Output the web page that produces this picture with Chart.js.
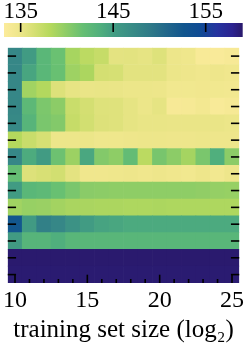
<!DOCTYPE html>
<html><head><meta charset="utf-8">
<script src="https://cdn.jsdelivr.net/npm/chart.js@4/dist/chart.umd.min.js"></script>
<style>
html,body{margin:0;padding:0;background:#fff;}
#wrap{position:relative;width:247px;height:343px;overflow:hidden;}
.box{position:absolute;left:0;}
</style></head><body>
<div id="wrap">
<div class="box" style="top:0;width:247px;height:37px"><canvas id="cb" width="247" height="37"></canvas></div>
<div class="box" style="top:40px;width:247px;height:303px"><canvas id="hm" width="247" height="303"></canvas></div>
</div>
<script>
// ---- data ----
const trainingSizes = [10,11,12,13,14,15,16,17,18,19,20,21,22,23,24,25];
const xTickLabels = [10,15,20,25];
const colorbarTicks = [135,145,155];
const colorMin = 133.2;
const colorMax = 159.0;
// rows from top to bottom
const row01 = [147.6,145.2,142.7,141.5,138.8,137.8,137.3,135.5,135.6,135.4,135.9,134.9,134.7,133.7,133.5,133.8];
const row02 = [147.6,144.4,142.7,141.6,139.2,138.6,136.5,136.4,135.6,135.6,135.6,135.0,134.8,134.6,134.8,134.6];
const row03 = [147.6,139.1,138.3,136.0,135.3,135.1,135.2,135.1,135.0,135.0,134.9,134.4,134.4,134.5,134.4,134.3];
const row04 = [147.5,142.5,140.7,140.0,137.1,136.5,135.9,135.8,135.4,135.0,135.4,133.8,133.9,134.2,133.6,133.9];
const row05 = [147.3,143.0,140.8,140.4,137.3,136.6,136.0,135.8,135.4,135.2,135.2,135.1,135.1,135.1,135.1,135.0];
const row06 = [138.2,137.1,136.4,134.9,134.9,135.0,134.7,134.7,134.8,134.9,134.9,134.8,134.8,134.9,134.8,134.8];
const row07 = [147.6,143.9,145.2,141.4,139.3,144.2,140.4,139.9,142.0,137.9,140.9,140.0,138.9,140.8,143.6,140.0];
const row08 = [141.8,136.0,136.3,136.6,135.5,134.6,134.6,134.7,134.8,134.6,134.8,134.6,134.4,134.8,134.3,134.8];
const row09 = [145.2,142.7,142.4,141.6,140.8,140.1,140.0,139.9,139.9,139.9,139.9,139.9,139.9,139.8,139.6,139.5];
const row10 = [139.1,139.5,139.4,139.0,138.7,138.7,138.6,138.6,138.5,138.5,138.6,138.5,138.5,138.5,138.5,138.5];
const row11 = [152.5,145.3,148.3,147.6,146.3,145.2,144.5,144.3,144.0,144.0,144.0,144.0,144.0,144.0,144.0,144.0];
const row12 = [145.3,143.0,143.0,143.6,142.8,142.8,142.8,142.8,142.8,142.8,142.8,142.8,142.8,142.8,142.8,142.8];
const row13 = [158.9,158.9,158.9,158.9,158.9,158.9,158.9,158.9,158.9,158.9,158.9,158.9,158.9,158.9,158.9,158.9];
const row14 = [158.8,158.8,158.8,158.8,158.8,158.8,158.8,158.8,158.8,158.8,158.8,158.8,158.8,158.8,158.8,158.8];
const rows = [row01,row02,row03,row04,row05,row06,row07,row08,row09,row10,row11,row12,row13,row14];

// ---- colormap (style) ----
const CMAP = [
  [133.3,'#fbeb9b'],[134.9,'#ede68a'],[136.3,'#d8e075'],[138.2,'#b5d95d'],
  [140.0,'#8ccc67'],[141.7,'#66bf73'],[143.6,'#50af7d'],[145.0,'#429d83'],
  [147.1,'#388b86'],[149.0,'#2f7a88'],[150.8,'#22678b'],[152.6,'#12568e'],
  [154.4,'#0f4b94'],[156.2,'#2534a0'],[157.9,'#2c2390'],[158.9,'#2a1a6e']
];
function hexRgb(h){return [parseInt(h.slice(1,3),16),parseInt(h.slice(3,5),16),parseInt(h.slice(5,7),16)];}
function colorFor(v){
  if (v<=CMAP[0][0]) return CMAP[0][1];
  for (let i=1;i<CMAP.length;i++){
    if (v<=CMAP[i][0]){
      const t=(v-CMAP[i-1][0])/(CMAP[i][0]-CMAP[i-1][0]);
      const a=hexRgb(CMAP[i-1][1]), b=hexRgb(CMAP[i][1]);
      return 'rgb('+a.map((c,k)=>Math.round(c+(b[k]-c)*t)).join(',')+')';
    }
  }
  return CMAP[CMAP.length-1][1];
}
const FONT = 'Liberation Serif, Times New Roman, serif';

// ---- colorbar ----
const cbTickPlugin = {
  id:'cbTicks',
  afterDatasetsDraw(chart){
    const {ctx, chartArea, scales} = chart;
    ctx.save(); ctx.strokeStyle='#000'; ctx.lineWidth=1.6;
    colorbarTicks.forEach(v=>{
      const x = scales.x.getPixelForValue(v);
      ctx.beginPath(); ctx.moveTo(x, chartArea.top); ctx.lineTo(x, chartArea.top+9); ctx.stroke();
    });
    ctx.restore();
  }
};
new Chart(document.getElementById('cb'), {
  type:'bar',
  data:{labels:['cb'], datasets:[{
    data:[[colorMin,colorMax]],
    backgroundColor:(c)=>{
      const ch=c.chart, s=ch.scales.x;
      if(!ch.chartArea||!s) return '#888';
      const x0=s.getPixelForValue(colorMin), x1=s.getPixelForValue(colorMax);
      const g=ch.ctx.createLinearGradient(x0,0,x1,0);
      CMAP.forEach(([v,col])=>{
        const o=Math.min(1,Math.max(0,(v-colorMin)/(colorMax-colorMin)));
        g.addColorStop(o,col);
      });
      return g;
    },
    borderWidth:0, borderSkipped:false, barPercentage:1, categoryPercentage:1
  }]},
  options:{
    indexAxis:'y', responsive:false, animation:false, events:[],
    plugins:{legend:{display:false}, tooltip:{enabled:false}},
    layout:{padding:{left:4,right:4.3,top:0,bottom:0}},
    scales:{
      x:{type:'linear', position:'top', min:colorMin, max:colorMax,
        afterBuildTicks:(s)=>{ s.ticks = colorbarTicks.map(v=>({value:v})); },
        ticks:{font:{family:FONT,size:23,lineHeight:1}, color:'#000', padding:0, maxRotation:0, autoSkip:false},
        grid:{display:false, drawTicks:false}, border:{display:false},
        afterFit:(s)=>{ s.height = 23; }
      },
      y:{display:false}
    }
  },
  plugins:[cbTickPlugin]
});

// ---- heatmap ----
const hmTickPlugin = {
  id:'hmTicks',
  afterDatasetsDraw(chart){
    const {ctx, chartArea, scales} = chart;
    ctx.save(); ctx.strokeStyle='#000'; ctx.lineWidth=1.6;
    for (let r=0;r<rows.length;r++){
      const y = scales.y.getPixelForValue(r+0.5);
      ctx.beginPath(); ctx.moveTo(chartArea.left, y); ctx.lineTo(chartArea.left+8.3, y); ctx.stroke();
      ctx.beginPath(); ctx.moveTo(chartArea.right, y); ctx.lineTo(chartArea.right-8.3, y); ctx.stroke();
    }
    trainingSizes.forEach((n,i)=>{
      const x = scales.x.getPixelForValue(i);
      const len = xTickLabels.includes(n) ? 8.3 : 4;
      ctx.beginPath(); ctx.moveTo(x, chartArea.bottom); ctx.lineTo(x, chartArea.bottom-len); ctx.stroke();
    });
    ctx.restore();
  }
};
const datasets = rows.slice().reverse().map(row=>({
  data: row.map(()=>1),
  backgroundColor: row.map(colorFor),
  borderWidth:0, borderSkipped:false, barPercentage:1, categoryPercentage:1
}));
new Chart(document.getElementById('hm'), {
  type:'bar',
  data:{labels: trainingSizes.map(String), datasets},
  options:{
    responsive:false, animation:false, events:[],
    plugins:{legend:{display:false}, tooltip:{enabled:false}},
    layout:{padding:{left:3.3,right:4.3,top:7.7,bottom:0}},
    scales:{
      x:{type:'category', stacked:true, offset:true,
        ticks:{autoSkip:false, maxRotation:0, color:'#000', padding:3,
          font:{family:FONT,size:24},
          callback:(v,i)=> xTickLabels.includes(trainingSizes[i]) ? String(trainingSizes[i]) : ''},
        grid:{display:false, drawTicks:false}, border:{display:false},
        title:{display:true, text:'training set size (log\u2082)', color:'#000',
          font:{family:FONT,size:25,lineHeight:1}, padding:{top:0,bottom:0}},
        afterFit:(s)=>{ s.height = 60; }
      },
      y:{type:'linear', stacked:true, min:0, max:rows.length, display:false}
    }
  },
  plugins:[hmTickPlugin]
});
</script>
</body></html>
